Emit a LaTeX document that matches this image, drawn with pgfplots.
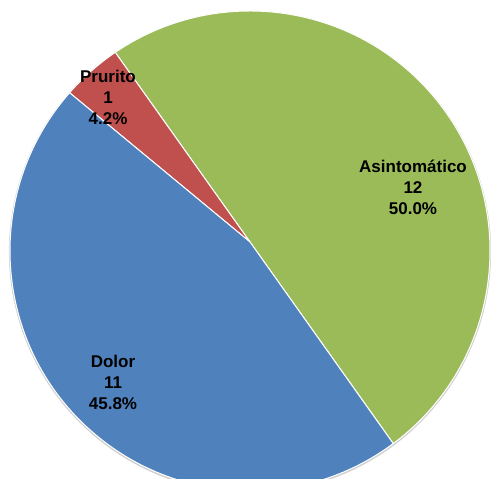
\documentclass[border=0pt]{standalone}
\usepackage{pgfplots}
\usepackage{pgfplotstable}
\pgfplotsset{compat=1.18}
\usepackage{fontspec}
\setmainfont{Liberation Sans}

\definecolor{cGreen}{HTML}{9BBB59}
\definecolor{cRed}{HTML}{C0504D}
\definecolor{cBlue}{HTML}{4F81BD}

% counts per category, in counter-clockwise drawing order
\pgfplotstableread{
name value
Asintomatico 12
Prurito 1
Dolor 11
}\piedata

% rim circle: radius R, centre dropped by D below the slice vertex
\def\R{240}
\def\D{9}
% distance along the ray at angle #1 to the rim, and rim angle seen from its centre
\newcommand\rimpoint[3]{%
  \pgfmathsetmacro\dd{\D/\R}%
  \pgfmathsetmacro#2{\R*(-\dd*sin(#1)+sqrt(\dd*\dd*sin(#1)*sin(#1)-\dd*\dd+1))}%
  \pgfmathsetmacro#3{atan2(#2*sin(#1)+\D,#2*cos(#1))}%
}

\begin{document}
\begin{tikzpicture}
\pgfplotstablegetelem{0}{value}\of\piedata \let\vA\pgfplotsretval
\pgfplotstablegetelem{1}{value}\of\piedata \let\vB\pgfplotsretval
\pgfplotstablegetelem{2}{value}\of\piedata \let\vC\pgfplotsretval
\pgfmathsetmacro\total{\vA+\vB+\vC}
\pgfmathsetmacro\aA{-54.6}
\pgfmathsetmacro\aB{\aA+360*\vA/\total}
\pgfmathsetmacro\aC{\aB+360*\vB/\total}
\pgfmathsetmacro\aD{\aC+360*\vC/\total}
\rimpoint{\aA}{\tA}{\bA}
\rimpoint{\aB}{\tB}{\bB}
\rimpoint{\aC}{\tC}{\bC}
\rimpoint{\aD}{\tD}{\bD}
\pgfmathsetmacro\bD{\bD<\bC ? \bD+360 : \bD}
\begin{axis}[
  scale only axis,
  width=491pt, height=479pt,
  xmin=-250, xmax=241,
  ymin=-237, ymax=242,
  hide axis,
  clip=true,
]
% soft outline under the pie
\draw[black!18, line width=2.2pt] (axis cs:0,-\D-1) circle[radius=\R pt];
\filldraw[fill=cGreen, draw=white, line width=1pt, line join=round]
  (axis cs:0,0) -- (axis cs:{\tA*cos(\aA)},{\tA*sin(\aA)})
  arc[start angle=\bA, end angle=\bB, radius=\R pt] -- cycle;
\filldraw[fill=cRed, draw=white, line width=1pt, line join=round]
  (axis cs:0,0) -- (axis cs:{\tB*cos(\aB)},{\tB*sin(\aB)})
  arc[start angle=\bB, end angle=\bC, radius=\R pt] -- cycle;
\filldraw[fill=cBlue, draw=white, line width=1pt, line join=round]
  (axis cs:0,0) -- (axis cs:{\tC*cos(\aC)},{\tC*sin(\aC)})
  arc[start angle=\bC, end angle=\bD, radius=\R pt] -- cycle;
% data labels
\tikzset{pielabel/.style={align=center, font=\bfseries\fontsize{17}{21}\selectfont}}
\node[pielabel] at (axis cs:163,55) {Asintomático\\12\\50.0\%};
\node[pielabel] at (axis cs:-142,145) {Prurito\\1\\4.2\%};
\node[pielabel] at (axis cs:-137,-140) {Dolor\\11\\45.8\%};
\end{axis}
\pgfresetboundingbox
\useasboundingbox (current axis.south west) rectangle (current axis.north east);
\end{tikzpicture}
\end{document}
